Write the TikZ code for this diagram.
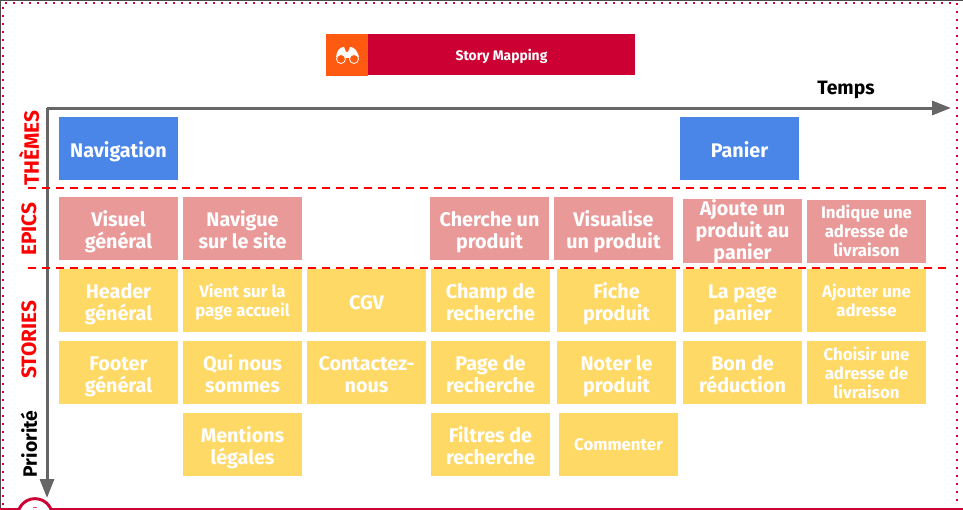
\documentclass[tikz,border=0pt]{standalone}
\usepackage{fontspec}
\setmainfont{Fira Sans}
\usetikzlibrary{arrows.meta,positioning}
\definecolor{themeblue}{HTML}{4A86E8}
\definecolor{epicpink}{HTML}{EA9999}
\definecolor{storyyellow}{HTML}{FFD966}
\definecolor{axisgray}{HTML}{666666}
\definecolor{crimson}{HTML}{CC0033}
\definecolor{iconorange}{HTML}{FF5A12}
\newcommand{\cardtop}{\rule{0pt}{17pt}}
\newcommand{\smalltop}{\rule{0pt}{13pt}}
\newcommand{\cardbot}{\rule[-4pt]{0pt}{4pt}}
\begin{document}
\begin{tikzpicture}[x=0.75pt,y=-0.75pt,node distance=3.75pt,outer sep=0pt,
  card/.style={anchor=north west,minimum width=89.25pt,minimum height=47.25pt,inner sep=0pt,
    text=white,align=center,font=\fontsize{14.8}{16.5}\selectfont\bfseries},
  small card/.style={card,font=\fontsize{12.6}{14.25}\selectfont\bfseries},
  theme node/.style={card,fill=themeblue},
  epic node/.style={card,fill=epicpink},
  story node/.style={card,fill=storyyellow},
  side label/.style={rotate=90,text=red,font=\fontsize{15.6}{18}\selectfont\bfseries},
  axis/.style={draw=axisgray,line width=2.25pt,-{Triangle[length=14.25pt,width=10.5pt]}},
  row line/.style={draw=red,line width=1.3pt,dash pattern=on 6pt off 4.5pt}]

  \useasboundingbox (0,0) rectangle (963,510);
  \clip (0,0) rectangle (963,510);

  % frame
  \draw[black!70,line width=1.5pt] (0,510) -- (0,0) -- (963,0);
  \draw[crimson,line width=1.5pt,dash pattern=on 1.5pt off 4.5pt] (3,505) -- (3,3) -- (957,3) -- (957,505);
  \draw[crimson,line width=1.5pt] (0,508.5) -- (963,508.5);
  \node[circle,draw=crimson,fill=white,line width=2.2pt,minimum size=26pt,inner sep=0pt] (badge) at (35,516) {};
  \fill[crimson!70] (33,507) rectangle (37,508);

  % header
  \node[anchor=north west,fill=iconorange,minimum width=31.5pt,minimum height=31.5pt,inner sep=0pt] (icon) at (326,34) {};
  \node[anchor=north west,fill=crimson,minimum width=200.25pt,minimum height=30.75pt,inner sep=0pt,text=white,
    font=\fontsize{10.4}{12}\selectfont\bfseries] (title) at (368,34) {\rule{0pt}{12pt}Story Mapping\rule[-3pt]{0pt}{3pt}};
  \fill[white] (336,57) .. controls (337,50) and (340,47) .. (344,47) -- (346,52) -- (348,52) -- (350,47)
    .. controls (354,47) and (357,50) .. (359,57) -- (347,58) -- cycle;
  \draw[white,fill=iconorange,line width=0.6pt] (341,59) circle (4.5) (354,59) circle (4.5);

  % axes
  \coordinate (origin) at (47,108);
  \coordinate (timeend) at (951,108);
  \coordinate (prioend) at (47,498);
  \draw[axis] (origin) -- (timeend);
  \draw[axis] (origin) -- (prioend);
  \node[font=\fontsize{14.5}{16}\selectfont\bfseries] (temps) at (846,90) {Temps};
  \node[rotate=90,font=\fontsize{14.5}{16}\selectfont\bfseries] (priorite) at (29,444) {Priorité};

  % rows
  \coordinate (l1a) at (28,188);
  \coordinate (l1b) at (946,188);
  \coordinate (l2a) at (28,268);
  \coordinate (l2b) at (946,268);
  \draw[row line] (l1a) -- (l1b);
  \draw[row line] (l2a) -- (l2b);
  \node[side label] (themes) at (29,148) {THÈMES};
  \node[side label] (epics) at (29,229) {EPICS};
  \node[side label] (stories) at (29,340) {STORIES};

  % themes
  \node[theme node] (nav) at (59,117) {\cardtop Navigation\cardbot};
  \node[theme node] (panier) at (680,117) {\cardtop Panier\cardbot};

  % epics
  \node[epic node] (e1) at (59,197) {\cardtop Visuel\\général\cardbot};
  \node[epic node] (e2) [right=of e1] {\cardtop Navigue\\sur le site\cardbot};
  \node[epic node] (e3) at (430,197) {\cardtop Cherche un\\produit\cardbot};
  \node[epic node] (e4) [right=of e3] {\cardtop Visualise\\un produit\cardbot};
  \node[epic node] (e5) at (683,199) {Ajoute un\\produit au\\panier};
  \node[epic node,small card] (e6) [right=of e5] {Indique une\\adresse de\\livraison};

  % stories
  \node[story node] (s11) at (59,269) {\cardtop Header\\général\cardbot};
  \node[story node,small card] (s12) [right=of s11] {\smalltop Vient sur la\\page accueil\cardbot};
  \node[story node] (s13) [right=of s12] {\cardtop CGV\cardbot};
  \node[story node] (s14) [right=of s13] {\cardtop Champ de\\recherche\cardbot};
  \node[story node] (s15) at (557,269) {\cardtop Fiche\\produit\cardbot};
  \node[story node] (s16) at (683,269) {\cardtop La page\\panier\cardbot};
  \node[story node,small card] (s17) [right=of s16] {\smalltop Ajouter une\\adresse\cardbot};

  \node[story node] (s21) [below=6.75pt of s11] {\cardtop Footer\\général\cardbot};
  \node[story node] (s22) [below=6.75pt of s12] {\cardtop Qui nous\\sommes\cardbot};
  \node[story node] (s23) [below=6.75pt of s13] {\cardtop Contactez-\\nous\cardbot};
  \node[story node] (s24) [below=6.75pt of s14] {\cardtop Page de\\recherche\cardbot};
  \node[story node] (s25) [below=6.75pt of s15] {\cardtop Noter le\\produit\cardbot};
  \node[story node] (s26) [below=6.75pt of s16] {\cardtop Bon de\\réduction\cardbot};
  \node[story node,small card] (s27) [below=6.75pt of s17] {Choisir une\\adresse de\\livraison};

  \node[story node] (s32) [below=6.75pt of s22] {\cardtop Mentions\\légales\cardbot};
  \node[story node] (s34) [below=6.75pt of s24] {\cardtop Filtres de\\recherche\cardbot};
  \node[story node,small card] (s35) at (559,413) {\smalltop Commenter\cardbot};
\end{tikzpicture}
\end{document}
